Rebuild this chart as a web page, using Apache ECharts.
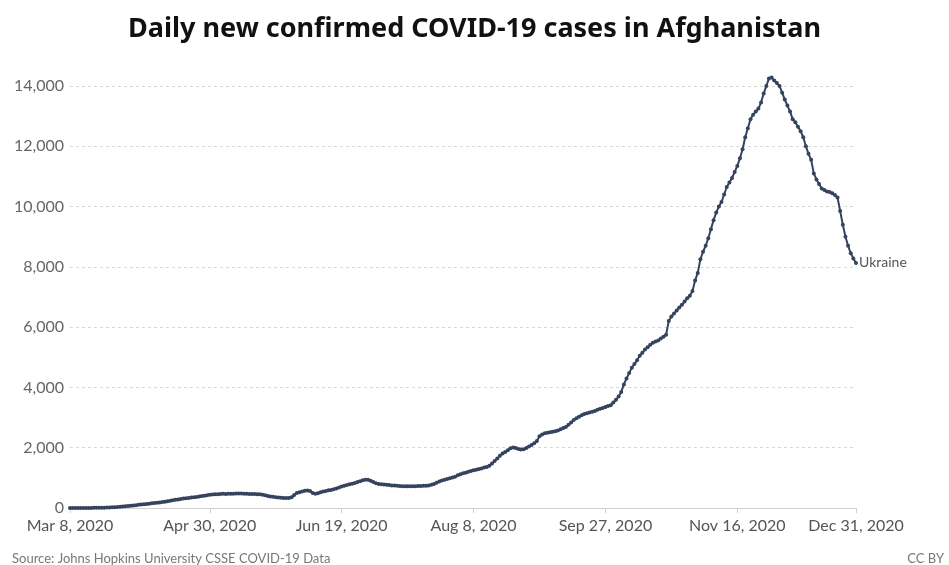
<!DOCTYPE html>
<html>
<head>
<meta charset="utf-8">
<script src="https://cdn.jsdelivr.net/npm/echarts@6/dist/echarts.min.js"></script>
<style>
  html, body { margin: 0; padding: 0; background: #fff; }
  #chart { width: 949px; height: 565px; }
</style>
</head>
<body>
<div id="chart"></div>
<script>
// daily new cases, Mar 8 2020 .. Dec 31 2020 (one value per day)
const startDate = [2020, 2, 8]
const dailyCases = [
  0, 0, 0, 1, 1, 1, 2, 3, 4, 5,
  6, 8, 10, 12, 15, 18, 22, 28, 33, 40,
  48, 56, 65, 75, 85, 95, 105, 115, 125, 135,
  145, 155, 165, 172, 180, 195, 210, 225, 240, 255,
  270, 285, 300, 315, 325, 335, 345, 355, 365, 380,
  395, 410, 425, 440, 450, 455, 460, 465, 470, 468,
  472, 475, 470, 478, 485, 480, 472, 470, 468, 465,
  462, 460, 455, 440, 420, 400, 385, 370, 355, 345,
  340, 335, 332, 330, 360, 430, 495, 520, 545, 570,
  580, 560, 500, 470, 490, 520, 545, 565, 585, 600,
  620, 650, 680, 710, 740, 765, 785, 805, 830, 860,
  890, 920, 940, 935, 900, 860, 820, 800, 790, 780,
  770, 760, 750, 745, 738, 730, 724, 720, 718, 720,
  722, 725, 728, 730, 735, 742, 750, 770, 800, 840,
  880, 915, 940, 965, 990, 1010, 1040, 1090, 1120, 1150,
  1170, 1200, 1230, 1255, 1270, 1290, 1310, 1340, 1360, 1400,
  1480, 1560, 1640, 1730, 1810, 1860, 1920, 1980, 2010, 1990,
  1960, 1940, 1950, 1990, 2040, 2090, 2150, 2220, 2380, 2440,
  2480, 2500, 2510, 2530, 2550, 2570, 2610, 2650, 2690, 2760,
  2840, 2920, 2980, 3030, 3080, 3120, 3140, 3170, 3190, 3220,
  3260, 3290, 3320, 3350, 3380, 3410, 3500, 3590, 3700, 3850,
  4100, 4300, 4480, 4650, 4780, 4900, 5050, 5150, 5260, 5330,
  5420, 5480, 5520, 5560, 5620, 5680, 5750, 6200, 6350, 6450,
  6550, 6650, 6740, 6850, 6960, 7040, 7200, 7550, 7800, 8250,
  8500, 8700, 8950, 9250, 9550, 9800, 10000, 10150, 10400, 10650,
  10800, 10950, 11150, 11350, 11600, 11900, 12300, 12600, 12900, 13050,
  13150, 13250, 13450, 13750, 14000, 14250, 14280, 14180, 14100, 14000,
  13780, 13550, 13350, 13150, 12900, 12800, 12650, 12500, 12300, 12000,
  11750, 11550, 11100, 10900, 10750, 10600, 10550, 10500, 10480, 10440,
  10380, 10300, 9850, 9400, 9000, 8700, 8450, 8280, 8130
]
// indices of the labelled dates on the x axis
const labelIndex = [0, 53, 103, 153, 203, 253, 298]
const yTicks = [0, 2000, 4000, 6000, 8000, 10000, 12000, 14000]

const monthNames = ['Jan', 'Feb', 'Mar', 'Apr', 'May', 'Jun', 'Jul', 'Aug', 'Sep', 'Oct', 'Nov', 'Dec']
const categories = dailyCases.map((v, i) => {
  const d = new Date(startDate[0], startDate[1], startDate[2] + i)
  return monthNames[d.getMonth()] + ' ' + d.getDate() + ', ' + d.getFullYear()
})

const myChart = echarts.init(document.getElementById('chart'))
const options = {
  backgroundColor: '#fff',
  animation: false,
  title: {
    text: 'Daily new confirmed COVID-19 cases in Afghanistan',
    left: 'center',
    top: 11,
    textStyle: {
      fontFamily: 'Noto Sans',
      fontWeight: 'bold',
      fontSize: 27,
      color: '#111'
    }
  },
  grid: {
    left: 70,
    right: 93,
    top: 86,
    bottom: 57
  },
  xAxis: {
    type: 'category',
    boundaryGap: false,
    data: categories,
    axisLine: { lineStyle: { color: '#d0d0d0' } },
    axisTick: {
      interval: (i) => labelIndex.indexOf(i) >= 0,
      length: 5,
      lineStyle: { color: '#d0d0d0' }
    },
    axisLabel: {
      interval: (i) => labelIndex.indexOf(i) >= 0,
      fontFamily: 'Lato',
      fontSize: 16,
      color: '#555',
      margin: 10
    }
  },
  yAxis: {
    type: 'value',
    min: yTicks[0],
    max: yTicks[yTicks.length - 1],
    interval: 2000,
    axisLine: { show: false },
    axisTick: { show: false },
    axisLabel: {
      fontFamily: 'Lato',
      fontSize: 16,
      color: '#666',
      margin: 6,
      formatter: (v) => v.toLocaleString('en-US')
    },
    splitLine: {
      lineStyle: { color: '#d8d8d8', type: [3, 3] }
    }
  },
  series: [{
    type: 'line',
    name: 'Ukraine',
    data: dailyCases,
    clip: false,
    symbol: 'circle',
    symbolSize: 4,
    showSymbol: true,
    showAllSymbol: true,
    itemStyle: { color: '#34435e' },
    lineStyle: { color: '#34435e', width: 2 },
    endLabel: {
      show: true,
      formatter: 'Ukraine',
      fontFamily: 'Lato',
      fontSize: 14,
      color: '#555',
      distance: 3
    }
  }],
  graphic: [
    {
      type: 'text',
      left: 12,
      top: 552,
      style: {
        text: 'Source: Johns Hopkins University CSSE COVID-19 Data',
        font: '13px Lato',
        fill: '#777'
      }
    },
    {
      type: 'text',
      right: 5,
      top: 552,
      style: {
        text: 'CC BY',
        font: '13px Lato',
        fill: '#777'
      }
    }
  ]
}
myChart.setOption(options)
</script>
</body>
</html>
